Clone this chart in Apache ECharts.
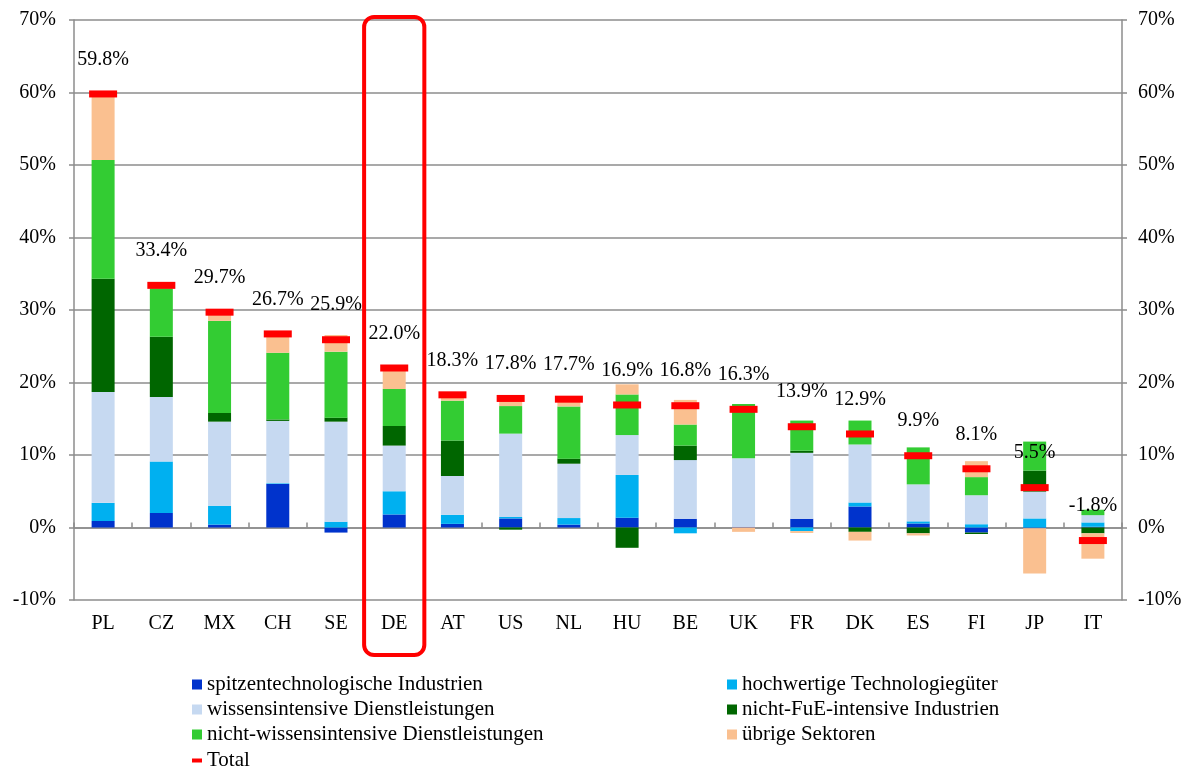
<!DOCTYPE html>
<html>
<head>
<meta charset="utf-8">
<script src="https://cdn.jsdelivr.net/npm/echarts@6/dist/echarts.min.js"></script>
<style>
html,body{margin:0;padding:0;background:#fff}
#main{width:1189px;height:766px}
</style>
</head>
<body>
<div id="main"></div>
<script>
// Länder und Beiträge der Sektoren (Prozentpunkte)
var laender = ['PL','CZ','MX','CH','SE','DE','AT','US','NL','HU','BE','UK','FR','DK','ES','FI','JP','IT'];
var spitzen = [0.9,2.0,0.4,6.0,-0.7,1.8,0.5,1.25,0.4,1.35,1.2,0.1,1.2,2.9,0.55,-0.7,-0.1,0.1];
var hochwertig = [2.5,7.1,2.6,0.1,0.8,3.2,1.25,0.2,0.9,5.9,-0.8,0,-0.5,0.55,0.3,0.45,1.25,0.6];
var wissens = [15.3,8.9,11.6,8.6,13.8,6.3,5.35,11.5,7.5,5.5,8.1,9.45,9.1,8.0,5.1,4.0,3.7,1.0];
var fue = [15.6,8.3,1.2,0.2,0.55,2.7,4.9,-0.3,0.7,-2.8,2.0,0,0.3,-0.6,-0.8,-0.2,2.9,-0.8];
var nichtWissens = [16.4,6.7,12.7,9.2,9.1,5.1,5.5,3.8,7.2,5.6,2.9,7.5,4.15,3.3,5.1,2.5,4.0,0.75];
var uebrige = [9.1,0.4,1.2,2.6,2.3,2.9,0.8,1.35,1.0,1.4,3.4,-0.6,-0.25,-1.2,-0.3,2.2,-6.25,-3.5];
var total = [59.8,33.4,29.7,26.7,25.9,22.0,18.3,17.8,17.7,16.9,16.8,16.3,13.9,12.9,9.9,8.1,5.5,-1.8];

var namen = [
	'spitzentechnologische Industrien',
	'hochwertige Technologiegüter',
	'wissensintensive Dienstleistungen',
	'nicht-FuE-intensive Industrien',
	'nicht-wissensintensive Dienstleistungen',
	'übrige Sektoren'
];
var farben = ['#0033CC','#00B0F0','#C6D9F1','#006600','#33CC33','#FAC090'];
var werte = [spitzen, hochwertig, wissens, fue, nichtWissens, uebrige];

var schrift = '"Liberation Serif", "Times New Roman", serif';
var grau = '#8c8c8c';

var myChart = echarts.init(document.getElementById('main'));

var series = [];
for (var i = 0; i < namen.length; i++) {
	series.push({
		name: namen[i],
		type: 'bar',
		stack: 'summe',
		barWidth: 23,
		data: werte[i],
		itemStyle: { color: farben[i] }
	});
}
series.push({
	name: 'Total',
	type: 'line',
	data: total,
	symbol: 'rect',
	symbolSize: [28, 7],
	showAllSymbol: true,
	lineStyle: { opacity: 0 },
	itemStyle: { color: '#FF0000' },
	z: 10,
	label: {
		show: true,
		position: 'top',
		distance: 21,
		color: '#000',
		fontFamily: schrift,
		fontSize: 20,
		formatter: function (p) { return p.value.toFixed(1) + '%'; }
	}
});

var legendText = { color: '#000', fontFamily: schrift, fontSize: 21, lineHeight: 21 };

var option = {
	animation: false,
	backgroundColor: '#fff',
	grid: { left: 74, right: 67, top: 20, bottom: 166 },
	legend: [
		{
			orient: 'vertical', left: 187, top: 669,
			itemWidth: 10, itemHeight: 10, itemGap: 4, icon: 'rect',
			textStyle: legendText,
			data: [namen[0], namen[2], namen[4]]
		},
		{
			orient: 'vertical', left: 722, top: 669,
			itemWidth: 10, itemHeight: 10, itemGap: 4, icon: 'rect',
			textStyle: legendText,
			data: [namen[1], namen[3], namen[5]]
		},
		{
			orient: 'vertical', left: 187, top: 745,
			itemWidth: 10, itemHeight: 4, icon: 'rect',
			textStyle: legendText,
			data: ['Total']
		}
	],
	xAxis: [
		{
			type: 'category',
			data: laender,
			axisLine: { show: false, onZero: false },
			axisTick: { show: false },
			axisLabel: { margin: 14, color: '#000', fontFamily: schrift, fontSize: 20 },
			splitLine: { show: false }
		},
		{
			type: 'category',
			data: laender,
			axisLine: { show: true, onZero: true, lineStyle: { color: grau, width: 1.5 } },
			axisTick: { show: true, length: 5, lineStyle: { color: grau, width: 1.5 } },
			axisLabel: { show: false },
			splitLine: { show: false }
		}
	],
	yAxis: [
		{
			type: 'value', position: 'left',
			min: -10, max: 70, interval: 10,
			axisLine: { show: true, lineStyle: { color: grau, width: 1.5 } },
			axisTick: { show: true, length: 5, lineStyle: { color: grau, width: 1.5 } },
			axisLabel: { margin: 18, formatter: '{value}%', color: '#000', fontFamily: schrift, fontSize: 20 },
			splitLine: { show: true, lineStyle: { color: grau, width: 1.5 } }
		},
		{
			type: 'value', position: 'right',
			min: -10, max: 70, interval: 10,
			axisLine: { show: true, lineStyle: { color: grau, width: 1.5 } },
			axisTick: { show: true, length: 5, lineStyle: { color: grau, width: 1.5 } },
			axisLabel: { margin: 16, formatter: '{value}%', color: '#000', fontFamily: schrift, fontSize: 20 },
			splitLine: { show: false }
		}
	],
	series: series
};

myChart.setOption(option);

// roter Rahmen um DE, aus den Achsen berechnet
var mitteX = myChart.convertToPixel({ xAxisIndex: 0 }, 'DE');
var naechsteX = myChart.convertToPixel({ xAxisIndex: 0 }, 'AT');
var breite = naechsteX - mitteX + 2;
var oben = myChart.convertToPixel({ yAxisIndex: 0 }, 70) - 3;
var unten = myChart.convertToPixel({ yAxisIndex: 0 }, -10) + 55;
myChart.setOption({
	graphic: [{
		type: 'rect',
		shape: { x: mitteX - breite / 2, y: oben, width: breite, height: unten - oben, r: 10 },
		style: { fill: 'none', stroke: '#FF0000', lineWidth: 4 },
		z: 100
	}]
});
</script>
</body>
</html>
